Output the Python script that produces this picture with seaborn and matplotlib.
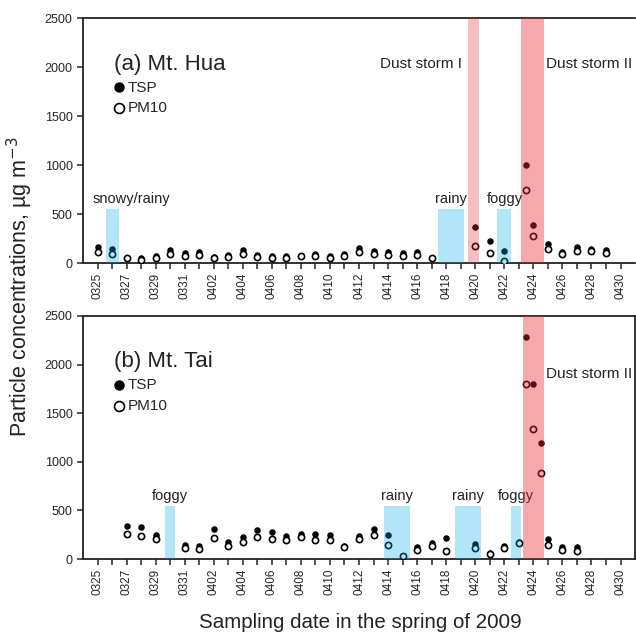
import numpy as np
import pandas as pd
import seaborn as sns
from matplotlib import pyplot as plt

# --------------------------- data ---------------------------------------- #
# day offset from 0325 (dust storm samples were taken every 12 h)
dates = list(pd.date_range('2009-03-25', '2009-04-30').strftime('%m%d'))

hua_day = [0, 1, 2, 3, 4, 5, 6, 7, 8, 9, 10, 11, 12, 13, 14, 15, 16, 17, 18,
           19, 20, 21, 22, 23, 26, 27, 28, 29.5, 30.0, 31, 32, 33, 34, 35]
hua_tsp = [166, 138, np.nan, 52, 76, 131, 107, 117, 62, 86, 131, 83, 72, 72,
           76, 97, 69, 97, 156, 126, 116, 102, 116, np.nan, 369, 229, 120,
           997, 393, 195, 109, 167, 143, 130]
hua_pm10 = [114, 97, 52, 28, 55, 97, 76, 86, 55, 62, 97, 62, 55, 55, 69, 76,
            55, 76, 110, 92, 79, 68, 79, 55, 174, 99, 24, 748, 273, 143, 92,
            126, 120, 102]

tai_day = [2, 3, 4, 6, 7, 8, 9, 10, 11, 12, 13, 14, 15, 16, 17, 18, 19, 20,
           21, 22, 23, 24, 26, 27, 28, 29, 29.5, 30.0, 30.5, 31, 32, 33]
tai_tsp = [338, 328, 252, 141, 131, 304, 176, 228, 297, 276, 241, 262, 262,
           245, 138, 240, 312, 243, 34, 123, 165, 216, 151, 65, 134, 172,
           2284, 1797, 1194, 206, 120, 120]
tai_pm10 = [259, 241, 207, 110, 107, 217, 131, 176, 228, 207, 193, 231, 197,
            197, 127, 205, 250, 144, 27, 89, 130, 79, 113, 55, 110, 165,
            1797, 1334, 888, 141, 89, 82]

# weather / dust periods: (start, end, label)
hua_weather = [(0.55, 1.47, 'snowy/rainy'), (23.45, 25.25, 'rainy'), (27.53, 28.49, 'foggy')]
hua_dust = [(25.47, 26.28, 'Dust storm I'), (29.16, 30.70, 'Dust storm II')]
tai_weather = [(4.67, 5.33, 'foggy'), (19.75, 21.49, 'rainy'), (24.62, 26.42, 'rainy'),
               (28.46, 29.13, 'foggy')]
tai_dust = [(29.29, 30.76, 'Dust storm II')]

# --------------------------- style --------------------------------------- #
sns.set_theme(style='ticks')
plt.rcParams['font.family'] = ['Liberation Sans', 'DejaVu Sans']
plt.rcParams['axes.edgecolor'] = '#222222'
plt.rcParams['axes.linewidth'] = 1.3

fig = plt.figure(figsize=(6.36, 6.33), dpi=100)
ax1 = fig.add_axes([0.1305, 0.5845, 0.868, 0.387])
ax2 = fig.add_axes([0.1305, 0.1169, 0.868, 0.384])

BLUE = (0.0, 0.67, 0.90)
RED = (0.90, 0.16, 0.20)


def draw_panel(ax, day, tsp, pm10, weather, dust, title):
    sns.scatterplot(x=day, y=tsp, ax=ax, color='black', s=22, linewidth=0,
                    label='TSP', zorder=2)
    sns.scatterplot(x=day, y=pm10, ax=ax, color='white', edgecolor='black',
                    s=20, linewidth=1.2, label='PM10', zorder=3)

    for x0, x1, lab in weather:
        ax.axvspan(x0, x1, ymin=0, ymax=550 / 2500, color=BLUE, alpha=0.3,
                   lw=0, zorder=5)
        ax.text((x0 + x1) / 2, 650, lab, ha='center', va='center',
                fontsize=10.5, color='#222222')
    for x0, x1, lab in dust:
        a = 0.4 if lab.endswith('II') else 0.3
        ax.axvspan(x0, x1, ymin=0, ymax=1, color=RED, alpha=a, lw=0, zorder=5)

    ax.set_xlim(-1, 37)
    ax.set_ylim(0, 2500)
    ax.set_yticks(range(0, 2501, 500))
    ax.set_xticks(range(len(dates)))
    ax.set_xticklabels([d if i % 2 == 0 else '' for i, d in enumerate(dates)],
                       rotation=90, fontsize=8.5)
    ax.tick_params(axis='y', labelsize=9, length=4, width=1.1, direction='out')
    ax.tick_params(axis='x', length=4, width=1.1, direction='out', pad=3)
    ax.set_xlabel('')
    ax.set_ylabel('')

    ax.text(0.056, 0.812, title, transform=ax.transAxes, fontsize=16,
            va='center', ha='left', color='#222222')
    ax.legend(loc='upper left', bbox_to_anchor=(0.052, 0.745), frameon=False,
              handletextpad=0.05, markerscale=1.6, fontsize=11, borderpad=0,
              labelspacing=0.45, handlelength=1.0, borderaxespad=0)


draw_panel(ax1, hua_day, hua_tsp, hua_pm10, hua_weather, hua_dust, '(a) Mt. Hua')
draw_panel(ax2, tai_day, tai_tsp, tai_pm10, tai_weather, tai_dust, '(b) Mt. Tai')

# dust storm labels
ax1.text(25.07, 2030, 'Dust storm I', ha='right', va='center', fontsize=11, color='#222222')
ax1.text(30.84, 2030, 'Dust storm II', ha='left', va='center', fontsize=11, color='#222222')
ax2.text(30.84, 1900, 'Dust storm II', ha='left', va='center', fontsize=11, color='#222222')

ax1.texts[0].set_x(2.3)  # snowy/rainy sits a bit to the right
ax1.spines['right'].set_visible(False)

fig.text(0.032, 0.547, 'Particle concentrations, µg m$^{-3}$', rotation=90,
         ha='center', va='center', fontsize=15.5, color='#222222')
fig.text(0.566, 0.017, 'Sampling date in the spring of 2009', ha='center',
         va='center', fontsize=14.8, color='#222222')

fig.savefig('out.png', dpi=100)
